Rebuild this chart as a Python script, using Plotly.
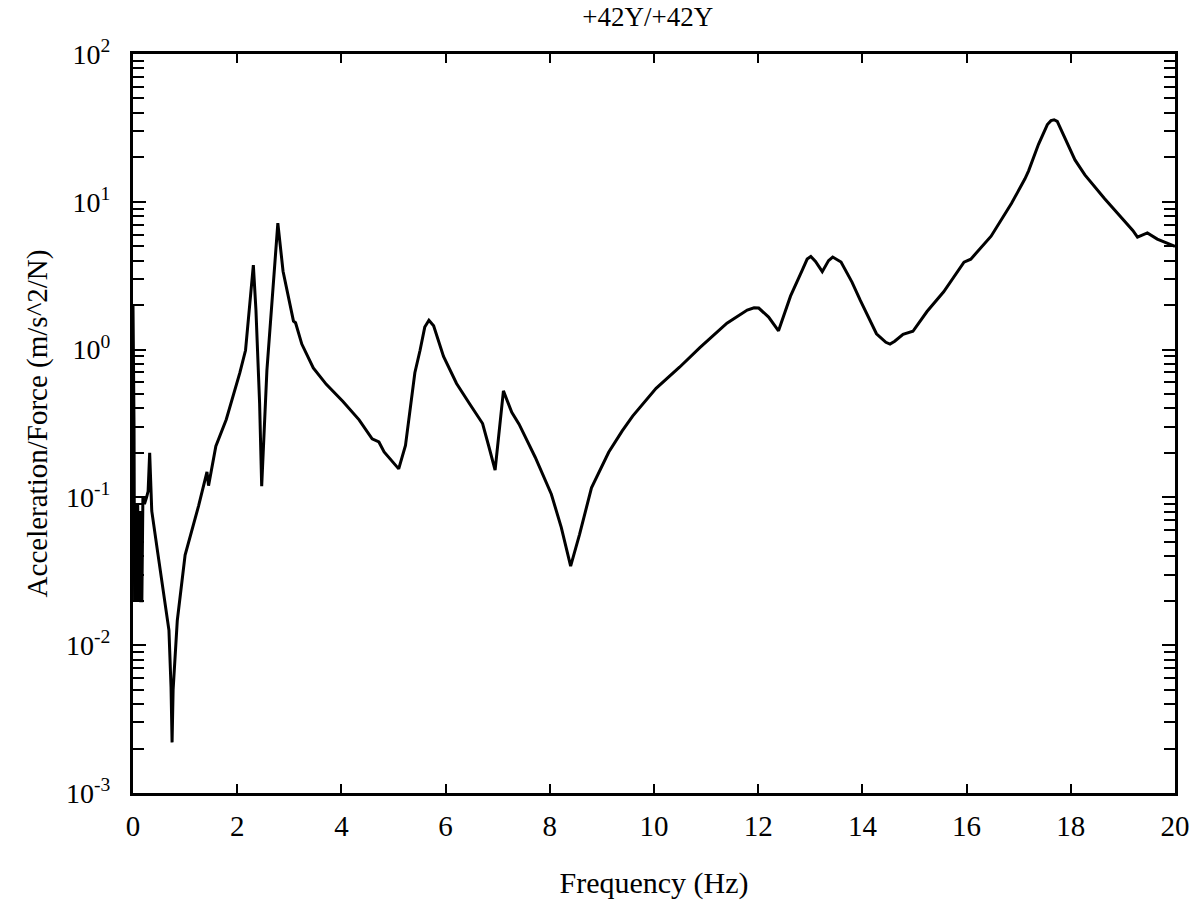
import plotly.graph_objects as go

# Frequency (Hz)
freq = [0.0, 0.02, 0.03, 0.05, 0.07, 0.09, 0.11, 0.13, 0.15, 0.17, 0.19, 0.22, 0.26, 0.29,
        0.32, 0.36, 0.48, 0.62, 0.69, 0.73, 0.75, 0.77, 0.85, 1.0, 1.26, 1.42, 1.45, 1.59,
        1.79, 2.05, 2.16, 2.31, 2.36, 2.43, 2.47, 2.57, 2.72, 2.78, 2.88, 3.03, 3.08, 3.12,
        3.24, 3.46, 3.71, 4.03, 4.34, 4.59, 4.72, 4.82, 5.10, 5.23, 5.41, 5.51, 5.60, 5.68,
        5.77, 5.96, 6.21, 6.46, 6.71, 6.83, 6.95, 7.11, 7.27, 7.41, 7.72, 8.03, 8.22, 8.40,
        8.57, 8.80, 9.13, 9.39, 9.59, 10.04, 10.49, 10.88, 11.40, 11.79, 11.92, 12.01, 12.20,
        12.39, 12.62, 12.85, 12.94, 13.01, 13.10, 13.23, 13.35, 13.43, 13.59, 13.80, 13.96,
        14.27, 14.45, 14.53, 14.62, 14.78, 14.97, 15.24, 15.56, 15.95, 16.08, 16.47, 16.86,
        17.12, 17.19, 17.38, 17.55, 17.62, 17.68, 17.74, 17.80, 18.08, 18.27, 18.65, 19.19,
        19.28, 19.47, 19.66, 20.0]

# Acceleration/Force (m/s^2/N)
accel = [2.0, 0.3, 0.02, 0.09, 0.02, 0.09, 0.02, 0.08, 0.02, 0.02, 0.1, 0.09, 0.1, 0.11,
         0.2, 0.081, 0.041, 0.0188, 0.0126, 0.0052, 0.0022, 0.005, 0.0147, 0.0407, 0.088,
         0.149, 0.12, 0.222, 0.337, 0.695, 0.99, 3.73, 1.84, 0.435, 0.119, 0.723, 3.4, 7.18,
         3.39, 1.82, 1.56, 1.52, 1.09, 0.751, 0.582, 0.445, 0.335, 0.249, 0.237, 0.203,
         0.156, 0.225, 0.697, 0.99, 1.42, 1.58, 1.45, 0.9, 0.59, 0.43, 0.316, 0.221, 0.153,
         0.526, 0.376, 0.313, 0.187, 0.105, 0.0627, 0.0343, 0.056, 0.116, 0.202, 0.282,
         0.355, 0.547, 0.76, 1.03, 1.51, 1.85, 1.92, 1.91, 1.66, 1.34, 2.3, 3.47, 4.1, 4.26,
         3.95, 3.37, 4.0, 4.23, 3.91, 2.86, 2.15, 1.28, 1.12, 1.09, 1.14, 1.27, 1.33, 1.81,
         2.46, 3.9, 4.09, 5.85, 9.74, 14.3, 16.2, 24.5, 33.3, 35.4, 35.9, 35.0, 31.5, 19.2,
         15.2, 10.5, 6.4, 5.77, 6.16, 5.59, 5.0]

x_ticks = [0, 2, 4, 6, 8, 10, 12, 14, 16, 18, 20]
y_tickvals = [1e-3, 1e-2, 1e-1, 1e0, 1e1, 1e2]
y_ticktext = ["10<sup>-3</sup>", "10<sup>-2</sup>", "10<sup>-1</sup>",
              "10<sup>0</sup>", "10<sup>1</sup>", "10<sup>2</sup>"]

FONT = "Liberation Serif, Times New Roman, serif"

fig = go.Figure()
fig.add_trace(go.Scatter(x=freq, y=accel, mode="lines",
                         line=dict(color="black", width=3), showlegend=False))

fig.update_layout(
    width=1204, height=907,
    margin=dict(l=133, r=29, t=54, b=108),
    paper_bgcolor="white", plot_bgcolor="white",
    font=dict(family=FONT, color="black"),
    title=dict(text="+42Y/+42Y", x=0.538, xanchor="center", y=0.982, yanchor="middle",
               font=dict(size=27, family=FONT, color="black")),
)

fig.update_xaxes(
    range=[0, 20], tickvals=x_ticks, ticktext=[str(v) for v in x_ticks],
    ticks="inside", ticklen=9, tickwidth=2, tickcolor="black",
    showline=True, linecolor="black", linewidth=3, mirror="ticks",
    showgrid=False, zeroline=False,
    tickfont=dict(size=29, family=FONT, color="black"), ticklabelstandoff=5,
    title=dict(text="Frequency (Hz)", font=dict(size=30, family=FONT, color="black"),
               standoff=32),
)

fig.update_yaxes(
    type="log", range=[-3, 2], tickvals=y_tickvals, ticktext=y_ticktext,
    ticks="inside", ticklen=13, tickwidth=2, tickcolor="black",
    minor=dict(ticks="inside", ticklen=11, tickwidth=2, tickcolor="black", dtick="D1",
               showgrid=False),
    showline=True, linecolor="black", linewidth=3, mirror="ticks",
    showgrid=False, zeroline=False,
    tickfont=dict(size=28, family=FONT, color="black"), ticklabelstandoff=14,
    title=dict(text="Acceleration/Force (m/s^2/N)",
               font=dict(size=29, family=FONT, color="black"), standoff=10),
)

fig.write_html("out.html")
